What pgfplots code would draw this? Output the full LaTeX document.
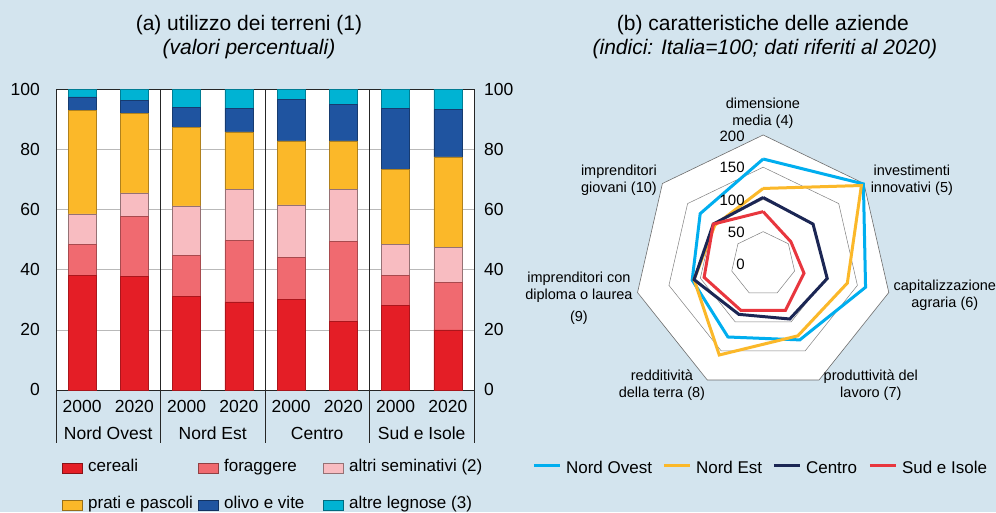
\documentclass[border=0pt]{standalone}
\usepackage{fontspec}
\setmainfont{Liberation Sans}
\usepackage{pgfplots}
\usepackage{pgfplotstable}
\pgfplotsset{compat=1.18}
\usepgfplotslibrary{polar}

\definecolor{bg}{RGB}{211,228,238}
\definecolor{cer}{RGB}{228,30,38}
\definecolor{forag}{RGB}{240,106,112}
\definecolor{altsem}{RGB}{248,188,193}
\definecolor{prati}{RGB}{251,184,41}
\definecolor{olivo}{RGB}{31,84,160}
\definecolor{legn}{RGB}{0,179,211}
\definecolor{cNO}{RGB}{0,174,239}
\definecolor{cNE}{RGB}{251,184,41}
\definecolor{cC}{RGB}{27,38,84}
\definecolor{cS}{RGB}{232,54,62}

% (a) quote percentuali, barre in x = 0.5 ... 7.5
\pgfplotstableread{
x   cer  for  alt  pra  oli  leg
0.5 38.1 10.3 10.2 34.5 4.4  2.5
1.5 37.8 20.0 7.8  26.5 4.2  3.7
2.5 31.2 13.7 16.4 26.1 6.6  6.0
3.5 29.3 20.5 16.9 19.2 7.8  6.3
4.5 30.2 13.9 17.5 21.3 13.9 3.2
5.5 22.9 26.5 17.3 16.2 12.2 4.9
6.5 28.2 9.9  10.3 25.1 20.2 6.3
7.5 20.0 15.8 11.7 30.1 15.7 6.7
}\terreni

% (b) indici, un asse ogni 360/7 gradi (ultimo punto = primo)
\pgfplotstableread{
a        NO    NE   C    S
90       162.7 117  103  81
38.571   199   195  99   55
-12.857  163   134  102  65
-64.286  131   124  95   80
-115.714 126   157  87   80
-167.143 113   110  110  94
141.429  125   96   99   99
90       162.7 117  103  81
}\radar

\pgfplotstableread{
a        r50 r100 r150 r200
90       50  100  150  200
38.571   50  100  150  200
-12.857  50  100  150  200
-64.286  50  100  150  200
-115.714 50  100  150  200
-167.143 50  100  150  200
141.429  50  100  150  200
90       50  100  150  200
}\rings

\begin{document}
\begin{tikzpicture}
\fill[bg] (0pt,0pt) rectangle (996pt,512pt);

% titoli
\node[anchor=base, inner sep=0pt, font=\fontsize{21}{24}\selectfont] at (249pt,481pt) {(a) utilizzo dei terreni (1)};
\node[anchor=base, inner sep=0pt, font=\fontsize{21}{24}\selectfont\itshape] at (249pt,457pt) {(valori percentuali)};
\node[anchor=base, inner sep=0pt, font=\fontsize{21}{24}\selectfont] at (763pt,481pt) {(b) caratteristiche delle aziende};
\node[anchor=base, inner sep=0pt, font=\fontsize{21}{24}\selectfont\itshape] at (765pt,457pt) {(indici: Italia=100; dati riferiti al 2020)};

\begin{axis}[
  at={(56pt,122pt)}, anchor=south west,
  scale only axis, width=418pt, height=300.5pt,
  xmin=0, xmax=8, ymin=0, ymax=100,
  ybar stacked, bar width=0.535,
  axis background/.style={fill=white},
  ytick={0,20,...,100},
  ymajorgrids, grid style={gray!55, line width=0.6pt},
  xtick={0.5,1.5,...,7.5},
  xticklabels={2000,2020,2000,2020,2000,2020,2000,2020},
  major tick length=0pt,
  tick label style={font=\fontsize{17.5}{20}\selectfont},
  /pgf/number format/assume math mode=true,
  xticklabel style={anchor=base, inner sep=0pt, yshift=-23pt},
  yticklabel style={anchor=east, inner sep=0pt, xshift=-16pt},
  axis line style={black!85, line width=0.8pt},
  clip=false,
]
\addplot[fill=cer, draw=cer!75!black, line width=0.4pt] table[x=x,y=cer]{\terreni};
\addplot[fill=forag, draw=forag!70!black, line width=0.4pt] table[x=x,y=for]{\terreni};
\addplot[fill=altsem, draw=altsem!60!black, line width=0.4pt] table[x=x,y=alt]{\terreni};
\addplot[fill=prati, draw=prati!70!black, line width=0.4pt] table[x=x,y=pra]{\terreni};
\addplot[fill=olivo, draw=olivo!70!black, line width=0.4pt] table[x=x,y=oli]{\terreni};
\addplot[fill=legn, draw=legn!70!black, line width=0.4pt] table[x=x,y=leg]{\terreni};
% separatori fra le ripartizioni
\draw[black!85, line width=0.8pt] (axis cs:2,100) -- (axis cs:2,-17.6);
\draw[black!85, line width=0.8pt] (axis cs:4,100) -- (axis cs:4,-17.6);
\draw[black!85, line width=0.8pt] (axis cs:6,100) -- (axis cs:6,-17.6);
\draw[black!85, line width=0.8pt] (axis cs:0,0) -- (axis cs:0,-17.6);
\draw[black!85, line width=0.8pt] (axis cs:8,0) -- (axis cs:8,-17.6);
\node[anchor=base, inner sep=0pt, font=\fontsize{17.5}{20}\selectfont, yshift=-50pt] at (axis cs:1,0) {Nord Ovest};
\node[anchor=base, inner sep=0pt, font=\fontsize{17.5}{20}\selectfont, yshift=-50pt] at (axis cs:3,0) {Nord Est};
\node[anchor=base, inner sep=0pt, font=\fontsize{17.5}{20}\selectfont, yshift=-50pt] at (axis cs:5,0) {Centro};
\node[anchor=base, inner sep=0pt, font=\fontsize{17.5}{20}\selectfont, yshift=-50pt] at (axis cs:7,0) {Sud e Isole};
\end{axis}

% etichette asse destro
\begin{axis}[
  at={(56pt,122pt)}, anchor=south west,
  scale only axis, width=418pt, height=300.5pt,
  xmin=0, xmax=8, ymin=0, ymax=100,
  hide x axis, axis y line*=right,
  ytick={0,20,...,100}, major tick length=0pt,
  tick label style={font=\fontsize{17.5}{20}\selectfont},
  /pgf/number format/assume math mode=true,
  yticklabel style={anchor=west, inner sep=0pt, xshift=10pt},
  axis line style={black!85, line width=0.8pt},
]
\addplot[draw=none] coordinates {(0,0)};
\end{axis}

% legenda (a)
\begin{scope}[font=\fontsize{17}{20}\selectfont]
\foreach \c/\x/\y/\t in {cer/62/39/cereali, forag/198/39/foraggere, altsem/323/39/altri seminativi (2),
                         prati/62/2/prati e pascoli, olivo/198/2/olivo e vite, legn/323/2/altre legnose (3)} {
  \filldraw[fill=\c, draw=\c!60!black, line width=0.5pt] (\x pt,\y pt) rectangle ++(20pt,10pt);
  \node[anchor=base west, inner sep=0pt] at (\x pt+26pt,\y pt+1pt) {\t};
}
\end{scope}

% (b) radar
\begin{polaraxis}[
  at={(763.3pt,248.1pt)}, anchor=center,
  scale only axis, width=257.8pt, height=257.8pt,
  ymin=0, ymax=200, hide axis, clip=false,
]
\addplot[draw=gray!85!black, line width=0.6pt, fill=white] table[x=a,y=r200]{\rings};
\addplot[draw=gray, line width=0.5pt] table[x=a,y=r150]{\rings};
\addplot[draw=gray, line width=0.5pt] table[x=a,y=r100]{\rings};
\addplot[draw=gray, line width=0.5pt] table[x=a,y=r50]{\rings};
\addplot[cNO, line width=3pt, line join=miter, miter limit=3] table[x=a,y=NO]{\radar};
\addplot[cNE, line width=3pt, line join=miter, miter limit=3] table[x=a,y=NE]{\radar};
\addplot[cC, line width=3pt, line join=miter, miter limit=3] table[x=a,y=C]{\radar};
\addplot[cS, line width=3pt, line join=miter, miter limit=3] table[x=a,y=S]{\radar};
\end{polaraxis}

\begin{scope}[font=\fontsize{15}{18}\selectfont]
\node[anchor=east, inner sep=0pt] at (745pt,376pt) {200};
\node[anchor=east, inner sep=0pt] at (745pt,345pt) {150};
\node[anchor=east, inner sep=0pt] at (745pt,312pt) {100};
\node[anchor=east, inner sep=0pt] at (745pt,279.5pt) {50};
\node[anchor=east, inner sep=0pt] at (745pt,248pt) {0};
\end{scope}

\begin{scope}[every node/.style={align=center, inner sep=0pt, font=\fontsize{14.5}{17}\selectfont}]
\node at (763pt,398.5pt) {dimensione\\media (4)};
\node at (912pt,331.5pt) {investimenti\\innovativi (5)};
\node at (945pt,217pt) {capitalizzazione\\agraria (6)};
\node at (871pt,126.5pt) {produttività del\\lavoro (7)};
\node at (662pt,126.5pt) {redditività\\della terra (8)};
\node at (579pt,214pt) {imprenditori con\\diploma o laurea\\[5pt](9)};
\node at (619pt,331.5pt) {imprenditori\\giovani (10)};
\end{scope}

% legenda (b)
\begin{scope}[font=\fontsize{17}{20}\selectfont]
\foreach \c/\x/\t in {cNO/534/Nord Ovest, cNE/664/Nord Est, cC/774/Centro, cS/870/Sud e Isole} {
  \draw[\c, line width=3pt] (\x pt,46pt) -- ++(26pt,0pt);
  \node[anchor=base west, inner sep=0pt] at (\x pt+32pt,38pt) {\t};
}
\end{scope}
\end{tikzpicture}
\end{document}
